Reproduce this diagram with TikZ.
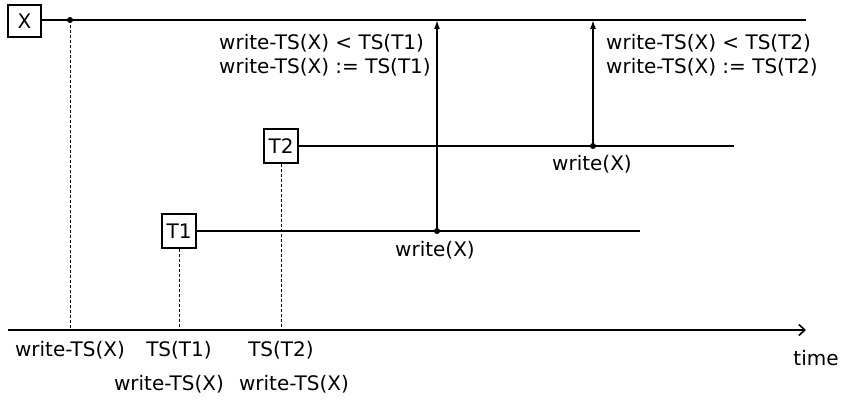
\documentclass[tikz,border=0pt]{standalone}
\usepackage{fontspec}
\setmainfont{DejaVu Sans}
\usetikzlibrary{arrows.meta}

\tikzset{
  obj/.style={draw, line width=1.5pt, minimum width=34, minimum height=34, inner sep=0pt, font=\fontsize{20}{24}\selectfont},
  life/.style={line width=1.6pt},
  tsline/.style={dashed, line width=0.6pt, dash pattern=on 3pt off 2pt},
  lbl/.style={font=\fontsize{20}{24}\selectfont, inner sep=0pt, align=left},
}

\begin{document}
\begin{tikzpicture}[x=1pt,y=-1pt]
    \useasboundingbox (0,0) rectangle (843,404);

    % Objects and transactions
    \node[obj, minimum width=33, minimum height=32] (X) at (24.5,21) {X};
    \node[obj] (T1) at (179,231) {T1};
    \node[obj] (T2) at (281,146) {T2};

    % Time axis
    \coordinate (t0) at (8,330);
    \coordinate (t1) at (806,330);
    \draw[life,-{Straight Barb[length=6pt,width=11pt]}] (t0) -- (t1);
    \node[lbl] (time) at (816,358) {time};

    % Lifelines
    \coordinate (xend) at (806,20);
    \coordinate (t1end) at (640,231);
    \coordinate (t2end) at (734,146);
    \draw[life] (X.east |- xend) -- (xend);
    \draw[life] (T1.east) -- (t1end);
    \draw[life] (T2.east) -- (t2end);

    % Initial write-TS(X)
    \coordinate (wx) at (70,20);
    \coordinate (wx0) at (70,330);
    \fill (wx) circle (3);
    \draw[tsline] (wx) -- (wx0);

    % Timestamps of T1 and T2
    \coordinate (ts1) at (179,330);
    \coordinate (ts2) at (281,330);
    \draw[tsline] (T1.south) -- (ts1);
    \draw[tsline] (T2.south) -- (ts2);

    % write(X) of T1
    \coordinate (w1) at (437,231);
    \coordinate (w1x) at (437,20);
    \fill (w1) circle (3);
    \draw[life,-{Latex[length=9pt,width=6pt]}] (w1) -- (w1x);
    \node[lbl] (w1lbl) at (435,250) {write(X)};
    \node[lbl, anchor=west] (w1txt) at (219,55) {write-TS(X) < TS(T1)\\write-TS(X) := TS(T1)};

    % write(X) of T2
    \coordinate (w2) at (593,146);
    \coordinate (w2x) at (593,20);
    \fill (w2) circle (3);
    \draw[life,-{Latex[length=9pt,width=6pt]}] (w2) -- (w2x);
    \node[lbl] (w2lbl) at (592,164) {write(X)};
    \node[lbl, anchor=west] (w2txt) at (606,55) {write-TS(X) < TS(T2)\\write-TS(X) := TS(T2)};

    % Labels on the axis
    \node[lbl] (l0) at (70,350) {write-TS(X)};
    \node[lbl] (l1) at (179,350) {TS(T1)};
    \node[lbl] (l2) at (281,350) {TS(T2)};
    \node[lbl] (l3) at (169,384) {write-TS(X)};
    \node[lbl] (l4) at (294,384) {write-TS(X)};
\end{tikzpicture}
\end{document}
